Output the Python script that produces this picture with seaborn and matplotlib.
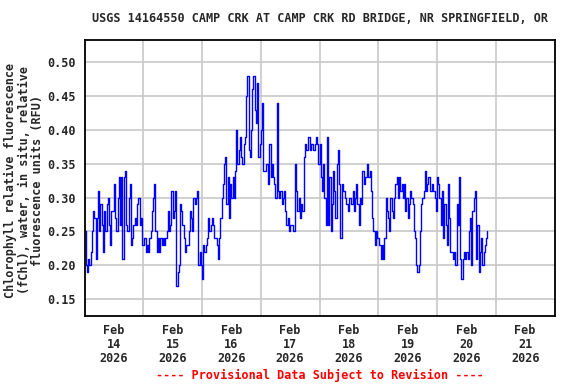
import pandas as pd
import seaborn as sns
import matplotlib
matplotlib.use("Agg")
import matplotlib.pyplot as plt
import matplotlib.dates as mdates
from matplotlib.ticker import NullFormatter

TITLE = "USGS 14164550 CAMP CRK AT CAMP CRK RD BRIDGE, NR SPRINGFIELD, OR"
YLABEL = "Chlorophyll relative fluorescence\n(fChl), water, in situ, relative\nfluorescence units (RFU)"
FOOTER = "---- Provisional Data Subject to Revision ----"

START = "2026-02-14 00:00"
STEP = "30min"

# half-hourly readings, one list per day (RFU)
feb14 = [0.25, 0.20, 0.19, 0.21, 0.20, 0.22, 0.25, 0.28, 0.27, 0.21, 0.27, 0.31,
         0.25, 0.29, 0.26, 0.22, 0.28, 0.25, 0.29, 0.30, 0.26, 0.23, 0.28, 0.28,
         0.32, 0.27, 0.25, 0.30, 0.33, 0.26, 0.33, 0.21, 0.33, 0.34, 0.26, 0.25,
         0.30, 0.32, 0.23, 0.24, 0.26, 0.27, 0.26, 0.29, 0.30, 0.26, 0.27, 0.23]
feb15 = [0.23, 0.24, 0.22, 0.23, 0.22, 0.24, 0.25, 0.28, 0.30, 0.32, 0.25, 0.22,
         0.24, 0.22, 0.24, 0.23, 0.24, 0.23, 0.24, 0.25, 0.28, 0.25, 0.26, 0.31,
         0.27, 0.28, 0.31, 0.17, 0.19, 0.20, 0.29, 0.28, 0.26, 0.24, 0.22, 0.23,
         0.23, 0.25, 0.28, 0.27, 0.25, 0.30, 0.29, 0.30, 0.31, 0.20, 0.22, 0.20]
feb16 = [0.18, 0.23, 0.22, 0.23, 0.24, 0.27, 0.25, 0.26, 0.27, 0.26, 0.24, 0.24,
         0.23, 0.21, 0.24, 0.27, 0.30, 0.32, 0.35, 0.36, 0.29, 0.33, 0.27, 0.32,
         0.30, 0.33, 0.30, 0.34, 0.40, 0.35, 0.37, 0.39, 0.36, 0.35, 0.38, 0.39,
         0.45, 0.48, 0.37, 0.36, 0.40, 0.46, 0.48, 0.43, 0.41, 0.47, 0.36, 0.38]
feb17 = [0.40, 0.44, 0.34, 0.34, 0.35, 0.35, 0.32, 0.38, 0.33, 0.35, 0.33, 0.32,
         0.30, 0.44, 0.31, 0.30, 0.31, 0.29, 0.30, 0.31, 0.28, 0.26, 0.27, 0.25,
         0.26, 0.26, 0.25, 0.25, 0.35, 0.31, 0.28, 0.30, 0.27, 0.29, 0.28, 0.36,
         0.38, 0.37, 0.37, 0.39, 0.37, 0.38, 0.38, 0.37, 0.38, 0.39, 0.38, 0.35]
feb18 = [0.38, 0.33, 0.31, 0.35, 0.30, 0.26, 0.39, 0.26, 0.33, 0.25, 0.29, 0.34,
         0.31, 0.27, 0.35, 0.37, 0.32, 0.24, 0.32, 0.31, 0.31, 0.30, 0.29, 0.28,
         0.30, 0.30, 0.29, 0.31, 0.28, 0.30, 0.32, 0.29, 0.26, 0.30, 0.29, 0.34,
         0.32, 0.33, 0.33, 0.35, 0.33, 0.34, 0.31, 0.27, 0.25, 0.23, 0.25, 0.24]
feb19 = [0.24, 0.23, 0.21, 0.23, 0.21, 0.24, 0.30, 0.28, 0.27, 0.25, 0.30, 0.28,
         0.27, 0.30, 0.32, 0.33, 0.30, 0.33, 0.31, 0.32, 0.30, 0.32, 0.28, 0.30,
         0.27, 0.29, 0.31, 0.30, 0.29, 0.25, 0.24, 0.20, 0.19, 0.20, 0.25, 0.29,
         0.30, 0.31, 0.34, 0.31, 0.32, 0.33, 0.31, 0.31, 0.32, 0.31, 0.30, 0.28]
feb20 = [0.33, 0.32, 0.30, 0.26, 0.31, 0.24, 0.29, 0.26, 0.23, 0.32, 0.27, 0.22,
         0.22, 0.21, 0.22, 0.20, 0.29, 0.26, 0.33, 0.21, 0.18, 0.21, 0.22, 0.21,
         0.22, 0.21, 0.25, 0.27, 0.20, 0.28, 0.30, 0.31, 0.21, 0.26, 0.19, 0.22,
         0.24, 0.20, 0.22, 0.23, 0.24, 0.25]

YTICKS = [0.15, 0.20, 0.25, 0.30, 0.35, 0.40, 0.45, 0.50]


def build_frame():
    vals = feb14 + feb15 + feb16 + feb17 + feb18 + feb19 + feb20
    times = pd.date_range(START, periods=len(vals), freq=STEP)
    return pd.DataFrame({"time": times, "fchl": vals})


def plot(df):
    sns.set_style("white")
    plt.rcParams["font.family"] = ["DejaVu Sans Mono"]
    plt.rcParams["font.weight"] = "bold"
    fs = 8.5

    fig = plt.figure(figsize=(5.76, 3.84), dpi=100)
    ax = fig.add_axes([84.5 / 576, 68 / 384, 470 / 576, 276 / 384])

    # quantised gauge readings -> stepped trace like the USGS plot
    sns.lineplot(data=df, x="time", y="fchl", color="#0000ff", lw=1.0,
                 estimator=None, drawstyle="steps-post", ax=ax)

    ax.set_xlim(pd.Timestamp("2026-02-14"), pd.Timestamp("2026-02-22"))
    ax.set_ylim(0.125, 0.533)
    ax.set_yticks(YTICKS)
    ax.set_yticklabels([f"{v:.2f}" for v in YTICKS], fontsize=fs, fontweight="bold")

    ax.xaxis.set_major_locator(mdates.DayLocator())
    ax.xaxis.set_major_formatter(NullFormatter())
    ax.xaxis.set_minor_locator(mdates.HourLocator(byhour=12))
    ax.xaxis.set_minor_formatter(mdates.DateFormatter("%b\n%d\n%Y"))
    for lab in ax.xaxis.get_minorticklabels():
        lab.set_fontsize(fs)
        lab.set_fontweight("bold")
        lab.set_linespacing(1.1)

    ax.tick_params(axis="both", which="both", length=0)
    ax.tick_params(axis="x", which="minor", pad=6)
    ax.tick_params(axis="y", pad=6)

    ax.grid(True, which="major", color="#c8c8c8", lw=1.2)
    for s in ax.spines.values():
        s.set_color("black")
        s.set_linewidth(1.3)
    ax.set_xlabel("")
    ax.set_ylabel("")

    fig.text(319.5 / 576, 1 - 19 / 384, TITLE, ha="center", va="center",
             fontsize=fs, fontweight="bold")
    fig.text(24 / 576, 1 - 180 / 384, YLABEL, ha="center", va="center",
             rotation=90, multialignment="center", fontsize=fs,
             fontweight="bold", linespacing=1.05)
    fig.text(320 / 576, 1 - 375 / 384, FOOTER, ha="center", va="center",
             fontsize=fs, fontweight="bold", color="#ff0000")

    fig.savefig("out.png", dpi=100)
    plt.close(fig)


if __name__ == "__main__":
    plot(build_frame())
